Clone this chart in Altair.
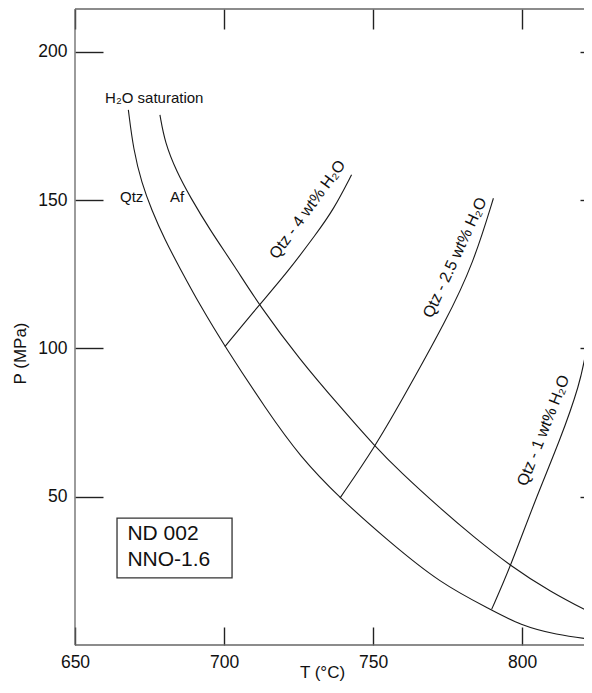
import altair as alt
import pandas as pd

# ---------------- data ----------------
T_DOMAIN = [650, 820.8]
P_DOMAIN = [0, 214.4]
T_TICKS = [650, 700, 750, 800]
P_TICKS = [50, 100, 150, 200]

qtz_sat_T = [667.9, 669.6, 672.4, 675.7, 680.2, 685.2, 691.9, 700.3, 714.3, 725.5, 738.9, 755.0, 772.5, 789.8, 799.3, 811.6, 823.4]
qtz_sat_P = [180.4, 166.9, 155.7, 146.7, 136.5, 127.0, 114.6, 100.6, 79.2, 63.5, 49.5, 35.2, 20.8, 11.8, 6.7, 3.4, 1.9]

af_sat_T = [678.5, 680.2, 684.1, 688.6, 695.3, 703.7, 711.8, 725.5, 738.9, 750.7, 759.1, 772.5, 783.7, 796.2, 809.4, 823.4]
af_sat_P = [178.7, 169.2, 159.6, 151.1, 139.9, 127.5, 114.6, 96.1, 80.4, 66.9, 58.4, 46.1, 36.5, 26.6, 18.0, 10.7]

qtz4_T = [700.3, 711.8, 721.0, 731.1, 736.7, 742.8]
qtz4_P = [100.6, 114.6, 125.3, 138.8, 146.7, 158.5]

qtz25_T = [738.9, 750.7, 759.1, 774.7, 783.7, 790.4]
qtz25_P = [49.5, 66.9, 81.5, 109.6, 128.7, 150.6]

qtz1_T = [789.8, 796.2, 804.4, 812.8, 819.5, 821.5, 823.4]
qtz1_P = [12.0, 26.6, 48.9, 69.1, 88.2, 98.9, 110.0]

curve_names = ["Qtz", "Af", "Qtz-4", "Qtz-2.5", "Qtz-1"]

label_text = ["H\u2082O saturation", "Qtz", "Af"]
label_T = [660.1, 665.1, 681.9]
label_P = [182.7, 149.4, 149.4]

rot_text = ["Qtz - 4 wt% H\u2082O", "Qtz - 2.5 wt% H\u2082O", "Qtz - 1 wt% H\u2082O"]
rot_T = [728.0, 777.5, 807.2]
rot_P = [146.8, 130.6, 72.3]

box_T = [664.1, 702.7]
box_P = [22.6, 42.8]
box_lines = ["ND 002", "NNO-1.6"]
box_text_T = [667.6, 667.6]
box_text_P = [35.3, 26.8]

# ---------------- tables ----------------
rows = []
for name, ts, ps in zip(curve_names,
                        [qtz_sat_T, af_sat_T, qtz4_T, qtz25_T, qtz1_T],
                        [qtz_sat_P, af_sat_P, qtz4_P, qtz25_P, qtz1_P]):
    for i, (t, p) in enumerate(zip(ts, ps)):
        rows.append({"curve": name, "T": t, "P": p, "i": i})
curves = pd.DataFrame(rows)
sat = curves[curves.curve.isin(["Qtz", "Af"])]
wt = curves[~curves.curve.isin(["Qtz", "Af"])]

labels = pd.DataFrame({"text": label_text, "T": label_T, "P": label_P})
box = pd.DataFrame({"T": [box_T[0]], "T2": [box_T[1]], "P": [box_P[0]], "P2": [box_P[1]]})
box_txt = pd.DataFrame({"text": box_lines, "T": box_text_T, "P": box_text_P})

W, H = 509, 636
FONT = "Liberation Sans"

xs = alt.Scale(domain=T_DOMAIN, nice=False, zero=False)
ys = alt.Scale(domain=P_DOMAIN, nice=False, zero=False)

axis_common = dict(domain=False, grid=False, tickColor="#222", tickWidth=1.4,
                   labelFont=FONT, labelFontSize=17.5, labelColor="#111",
                   labelFlush=False, labelOverlap=False,
                   titleFont=FONT, titleFontSize=17, titleFontWeight="normal",
                   titleColor="#111")

x_bottom = alt.Axis(orient="bottom", values=T_TICKS, offset=-18, tickSize=18,
                    labelPadding=8, title="T (\u00b0C)", titleX=247, titleY=50,
                    titleAnchor="middle", titleAlign="center", titleBaseline="alphabetic",
                    **axis_common)
y_left = alt.Axis(orient="left", values=P_TICKS, offset=-28, tickSize=28,
                  labelPadding=8, title="P (MPa)", titleAngle=270, titleX=-83,
                  titleY=344, titleAlign="center", titleBaseline="middle",
                  titleAnchor="middle", **axis_common)
x_top = alt.Axis(orient="top", values=T_TICKS, offset=-20, tickSize=20,
                 labels=False, title=None, **axis_common)
y_right = alt.Axis(orient="right", values=P_TICKS, offset=-4, tickSize=4,
                   labels=False, title=None, **axis_common)

line_style = dict(color="#1a1a1a", strokeWidth=1.1, interpolate="basis", clip=True)

sat_layer = alt.Chart(sat).mark_line(**line_style).encode(
    x=alt.X("T:Q", scale=xs, axis=x_bottom),
    y=alt.Y("P:Q", scale=ys, axis=y_left),
    detail="curve:N", order="i:Q")

wt_layer = alt.Chart(wt).mark_line(**line_style).encode(
    x=alt.X("T:Q", scale=xs, axis=x_top),
    y=alt.Y("P:Q", scale=ys, axis=y_right),
    detail="curve:N", order="i:Q")

noax_x = alt.X("T:Q", scale=xs, axis=None)
noax_y = alt.Y("P:Q", scale=ys, axis=None)

label_layer = alt.Chart(labels).mark_text(font=FONT, fontSize=15, color="#111",
                                          align="left", baseline="alphabetic").encode(
    x=noax_x, y=noax_y, text="text:N")

rot_layers = []
angles = [306, 295, 291.5]
for k in range(3):
    d = pd.DataFrame({"text": [rot_text[k]], "T": [rot_T[k]], "P": [rot_P[k]]})
    rot_layers.append(alt.Chart(d).mark_text(font=FONT, fontSize=16, color="#111",
                                             angle=angles[k], align="center",
                                             baseline="middle").encode(
        x=noax_x, y=noax_y, text="text:N"))

box_layer = alt.Chart(box).mark_rect(fill="white", fillOpacity=0, stroke="#333",
                                     strokeWidth=1.3).encode(
    x=alt.X("T:Q", scale=xs, axis=None), x2="T2:Q",
    y=alt.Y("P:Q", scale=ys, axis=None), y2="P2:Q")

box_text_layer = alt.Chart(box_txt).mark_text(font=FONT, fontSize=21, color="#111",
                                              align="left", baseline="alphabetic").encode(
    x=noax_x, y=noax_y, text="text:N")

frame_color = "#666"
one = pd.DataFrame({"a": [0]})
frame_top = alt.Chart(one).mark_rule(color=frame_color, strokeWidth=1.3).encode(
    x=alt.value(0), x2=alt.value(W), y=alt.value(0))
frame_left = alt.Chart(one).mark_rule(color=frame_color, strokeWidth=1.3).encode(
    x=alt.value(0), y=alt.value(0), y2=alt.value(H))
frame_bottom = alt.Chart(one).mark_rule(color=frame_color, strokeWidth=1.3).encode(
    x=alt.value(0), x2=alt.value(W), y=alt.value(H))

chart = alt.layer(
    sat_layer, wt_layer, label_layer, *rot_layers, box_layer, box_text_layer,
    frame_top, frame_left, frame_bottom
).resolve_axis(x="independent", y="independent").properties(
    width=W, height=H,
    autosize=alt.AutoSizeParams(type="none"),
    padding={"left": 67, "top": 1, "right": 0, "bottom": 37},
    background="white"
).configure_view(stroke=None)

chart.save("out.html", embed_options={"renderer": "svg", "actions": False})
